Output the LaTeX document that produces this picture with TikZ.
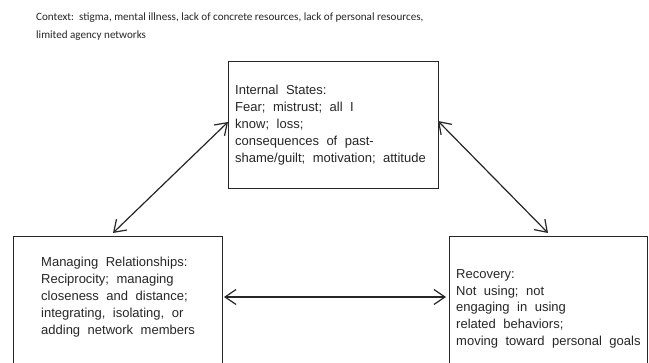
\documentclass[tikz,border=0pt]{standalone}
\usepackage{fontspec}
\setmainfont{Liberation Sans}
\newfontfamily\ctxfont{Carlito}
\usetikzlibrary{arrows.meta}
\newcommand\myboxfont{\fontsize{13}{16.9}\selectfont\spaceskip=7.5pt plus 1pt minus 1pt\relax}
\begin{document}
\begin{tikzpicture}[x=1pt,y=-1pt,
  boxstyle/.style={draw=black!85, line width=1.4pt, inner sep=0pt, anchor=north west},
  boxtext/.style={anchor=north west, inner sep=0pt, align=left, text=black!85,
    font=\myboxfont},
  link/.style={draw=black!85, line width=1.2pt, {Straight Barb[length=11pt,width=15pt]}-{Straight Barb[length=11pt,width=15pt]}}]
\useasboundingbox (0,0) rectangle (649,363);
\fill[white] (0,0) rectangle (649,363);
% context
\node[anchor=north west, inner sep=0pt, align=left, text=black!85,
  font=\ctxfont\fontsize{11.1}{18}\selectfont] (ctx) at (36,13)
  {Context:\ \ stigma, mental illness, lack of concrete resources, lack of personal resources,\\limited agency networks};
% boxes
\node[boxstyle, minimum width=210pt, minimum height=127pt] (T) at (228,61) {};
\node[boxstyle, minimum width=209pt, minimum height=160pt] (L) at (13,236) {};
\node[boxstyle, minimum width=198pt, minimum height=160pt] (R) at (449,236) {};
% texts
\node[boxtext] (Tt) at (235,85) {Internal States:\\Fear; mistrust; all I\\know; loss;\\consequences of past-\\shame/guilt; motivation; attitude};
\node[boxtext] (Lt) at (41,257) {Managing Relationships:\\Reciprocity; managing\\closeness and distance;\\integrating, isolating, or\\adding network members};
\node[boxtext] (Rt) at (456,269) {Recovery:\\Not using; not\\engaging in using\\related behaviors;\\moving toward personal goals};
% connector ends
\coordinate (a1) at (113,233);
\coordinate (a2) at (228,122);
\coordinate (b1) at (438,121);
\coordinate (b2) at (548,233);
\coordinate (c1) at (224,297);
\coordinate (c2) at (446,297);
\draw[link] (a1) -- (a2);
\draw[link] (b1) -- (b2);
\draw[link] (c1) -- (c2);
\end{tikzpicture}
\end{document}
